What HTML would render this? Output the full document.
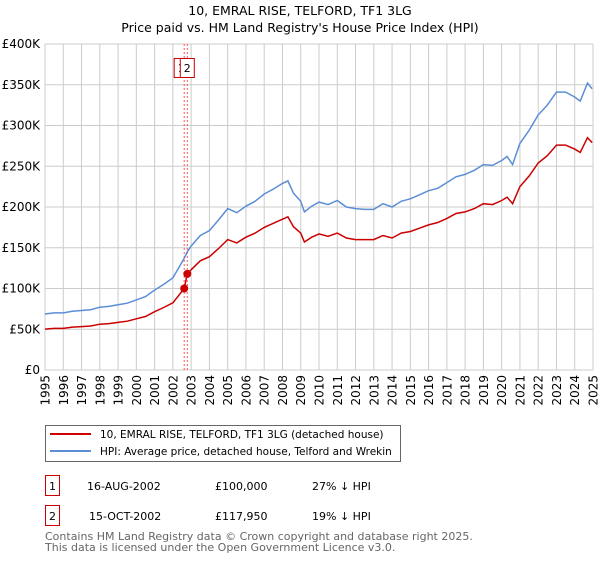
<!DOCTYPE html>
<html><head><meta charset="utf-8"><style>
body{margin:0;background:#fff;font-family:"Liberation Sans","DejaVu Sans",sans-serif;}
svg text{font-family:"DejaVu Sans","Liberation Sans",sans-serif;}
</style></head><body>
<svg width="600" height="560" viewBox="0 0 600 560" xmlns="http://www.w3.org/2000/svg">
<text x="300" y="15" text-anchor="middle" font-size="12.5" fill="#000">10, EMRAL RISE, TELFORD, TF1 3LG</text>
<text x="300" y="32" text-anchor="middle" font-size="12.5" fill="#000">Price paid vs. HM Land Registry's House Price Index (HPI)</text>
<g id="grid"></g>
<g id="yticks"></g>
<g id="xticks"></g>
<g id="markers"></g>
<g id="series"></g>
<g>
<rect x="45.5" y="425.5" width="355" height="36" fill="#fff" stroke="#666"/>
<line x1="50" y1="434" x2="91" y2="434" stroke="#cc0000" stroke-width="2"/>
<text x="100" y="438" font-size="10.5">10, EMRAL RISE, TELFORD, TF1 3LG (detached house)</text>
<line x1="50" y1="451" x2="91" y2="451" stroke="#5b8ed6" stroke-width="2"/>
<text x="100" y="455" font-size="10.5">HPI: Average price, detached house, Telford and Wrekin</text>
</g>
<g>
<rect x="45.5" y="475.5" width="14" height="20" fill="none" stroke="#cc0000"/>
<text x="52.5" y="490" text-anchor="middle" font-size="11">1</text>
<text x="87" y="490" font-size="11">16-AUG-2002</text>
<text x="215" y="490" font-size="11">£100,000</text>
<text x="312" y="490" font-size="11">27% ↓ HPI</text>
<rect x="45.5" y="505.5" width="14" height="20" fill="none" stroke="#cc0000"/>
<text x="52.5" y="520" text-anchor="middle" font-size="11">2</text>
<text x="89" y="520" font-size="11">15-OCT-2002</text>
<text x="215" y="520" font-size="11">£117,950</text>
<text x="312" y="520" font-size="11">19% ↓ HPI</text>
</g>
<text x="45" y="540" font-size="11" fill="#666">Contains HM Land Registry data © Crown copyright and database right 2025.</text>
<text x="45" y="551" font-size="11" fill="#666">This data is licensed under the Open Government Licence v3.0.</text>
</svg>
<script>
const years=[1995,1996,1997,1998,1999,2000,2001,2002,2003,2004,2005,2006,2007,2008,2009,2010,2011,2012,2013,2014,2015,2016,2017,2018,2019,2020,2021,2022,2023,2024,2025];
const yTickValues=[0,50000,100000,150000,200000,250000,300000,350000,400000];
const yTickLabels=["£0","£50K","£100K","£150K","£200K","£250K","£300K","£350K","£400K"];
const times=[1995.0,1995.5,1996.0,1996.5,1997.0,1997.5,1998.0,1998.5,1999.0,1999.5,2000.0,2000.5,2001.0,2001.5,2002.0,2002.62,2002.79,2003.0,2003.5,2004.0,2004.5,2005.0,2005.5,2006.0,2006.5,2007.0,2007.5,2008.0,2008.3,2008.6,2009.0,2009.2,2009.6,2010.0,2010.5,2011.0,2011.5,2012.0,2012.5,2013.0,2013.5,2014.0,2014.5,2015.0,2015.5,2016.0,2016.5,2017.0,2017.5,2018.0,2018.5,2019.0,2019.5,2020.0,2020.3,2020.6,2021.0,2021.5,2022.0,2022.5,2023.0,2023.5,2024.0,2024.3,2024.7,2024.95];
const hpiValues=[68.7,70,70,72,73,74,77,78,80,82,86,90,98,105,113,137,145,152,165,171,184,198,193,201,207,216,222,229,232,217,207,194,201,206,203,208,200,198,197,197,204,200,207,210,215,220,223,230,237,240,245,252,251,257,262,252,278,294,313,325,341,341,335,330,352,345];
const propertyValues=[50.2,51.1,51.1,52.6,53.3,54.0,56.2,56.9,58.4,59.9,62.8,65.7,71.5,76.7,82.5,100,117.95,123,134,139,149,160,156,163,168,175,180,185,188,176,168,157,163,167,164,168,162,160,160,160,165,162,168,170,174,178,181,186,192,194,198,204,203,208,212,204,225,238,254,263,276,276,271,267,285,279];
const saleTimes=[2002.62,2002.79];
const salePrices=[100000,117950];
const saleLabels=["1","2"];

const NS="http://www.w3.org/2000/svg";
const X0=45,X1=593,Y0=370,Y1=44;
const xs=t=>X0+(t-1995)/30*(X1-X0);
const ys=v=>Y0-v/400000*(Y0-Y1);
function mk(tag,attrs,parent){const e=document.createElementNS(NS,tag);for(const k in attrs)e.setAttribute(k,attrs[k]);parent.appendChild(e);return e;}
const grid=document.getElementById('grid'),yt=document.getElementById('yticks'),xt=document.getElementById('xticks');
yTickValues.forEach((v,i)=>{
  const l=mk('line',{x1:X0,x2:X1,y1:ys(v),y2:ys(v),stroke:'#cccccc','stroke-width':1},grid);
  
  
  const t=mk('text',{x:40,y:ys(v)+4,'text-anchor':'end','font-size':12,fill:'#000'},yt);
  t.textContent=yTickLabels[i];
  
  
});
years.forEach(y=>{
  const x=xs(y);
  const l=mk('line',{x1:x,x2:x,y1:Y1,y2:Y0,stroke:'#cccccc','stroke-width':1},grid);
  
  
  const t=mk('text',{x:0,y:0,'text-anchor':'end','font-size':12,fill:'#000',transform:`translate(${x+4.5},375) rotate(-90)`},xt);
  t.textContent=y;
  
  
});
const mg=document.getElementById('markers');
saleTimes.forEach((t,i)=>{
  const x=xs(t);
  const l=mk('line',{x1:x,x2:x,y1:Y1,y2:Y0,stroke:'#ff5555','stroke-width':1,'stroke-dasharray':'2,2'},mg);
  
  
});
saleTimes.forEach((t,i)=>{
  const x=xs(t);
  const bx=x-10+i*3;
  const r=mk('rect',{x:bx,y:58.5,width:14,height:19,fill:'#fff',stroke:'#cc0000'},mg);
  
  
  const tx=mk('text',{x:bx+7,y:72,'text-anchor':'middle','font-size':11},mg);
  tx.textContent=saleLabels[i];
  
  
});
const sg=document.getElementById('series');
const hp=mk('path',{d:times.map((t,i)=>(i?'L':'M')+xs(t).toFixed(1)+','+ys(hpiValues[i]*1000).toFixed(1)).join(''),fill:'none',stroke:'#5b8ed6','stroke-width':1.5},sg);


const pp=mk('path',{d:times.map((t,i)=>(i?'L':'M')+xs(t).toFixed(1)+','+ys(propertyValues[i]*1000).toFixed(1)).join(''),fill:'none',stroke:'#cc0000','stroke-width':1.5},sg);


saleTimes.forEach((t,i)=>{
  const c=mk('circle',{cx:xs(t),cy:ys(salePrices[i]),r:4,fill:'#cc0000'},sg);
  
  
});
</script>
</body></html>
